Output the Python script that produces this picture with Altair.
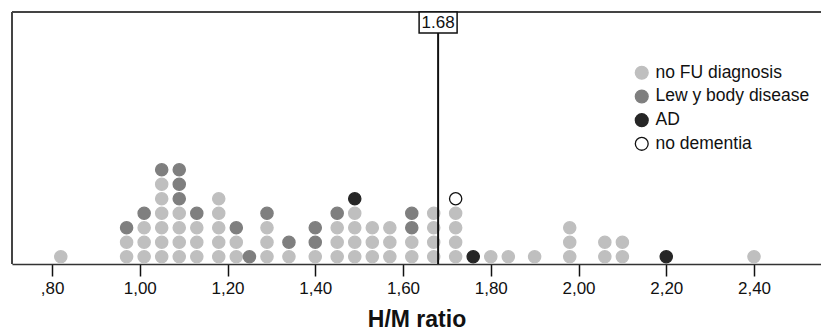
import altair as alt
import pandas as pd

# Dot-plot bins (H/M ratio) and the number of dots of each category per bin
bins   = [0.82, 0.97, 1.01, 1.05, 1.09, 1.13, 1.18, 1.22, 1.25, 1.29, 1.34, 1.40, 1.45, 1.49,
          1.53, 1.57, 1.62, 1.67, 1.72, 1.76, 1.80, 1.84, 1.90, 1.98, 2.06, 2.10, 2.20, 2.40]
no_fu  = [1, 2, 3, 6, 4, 3, 5, 2, 0, 3, 1, 1, 3, 4, 3, 3, 2, 4, 4, 0, 1, 1, 1, 3, 2, 2, 0, 1]
lewy   = [0, 1, 1, 1, 3, 1, 0, 1, 1, 1, 1, 2, 1, 0, 0, 0, 2, 0, 0, 0, 0, 0, 0, 0, 0, 0, 0, 0]
ad     = [0, 0, 0, 0, 0, 0, 0, 0, 0, 0, 0, 0, 0, 1, 0, 0, 0, 0, 0, 1, 0, 0, 0, 0, 0, 0, 1, 0]
nodem  = [0, 0, 0, 0, 0, 0, 0, 0, 0, 0, 0, 0, 0, 0, 0, 0, 0, 0, 1, 0, 0, 0, 0, 0, 0, 0, 0, 0]

categories = ["no FU diagnosis", "Lew y body disease", "AD", "no dementia"]
fills   = ["#bfbfbf", "#7f7f7f", "#262626", "#ffffff"]
strokes = ["#bfbfbf", "#7f7f7f", "#262626", "#111111"]
cutoff = 1.68
tick_values = [0.8, 1.0, 1.2, 1.4, 1.6, 1.8, 2.0, 2.2, 2.4]

rows = []
for i, b in enumerate(bins):
    for ci, counts in enumerate([no_fu, lewy, ad, nodem]):
        for _ in range(counts[i]):
            rows.append({"ratio": b, "cat": categories[ci], "order": ci})
df = pd.DataFrame(rows)

FONT = "Liberation Sans"
W, H = 809, 252

xscale = alt.Scale(domain=[0.7088, 2.5527], nice=False, zero=False)
yscale = alt.Scale(domain=[0, 17.38], nice=False, zero=True)

legend_opts = dict(title=None, orient="none", legendX=621, legendY=52,
                   symbolType="circle", symbolSize=165, symbolStrokeWidth=1.3,
                   labelFont=FONT, labelFontSize=17.5, labelColor="#111111",
                   labelOffset=5, rowPadding=4.7, padding=0)

dots = alt.Chart(df).transform_window(
    row="row_number()", groupby=["ratio"], sort=[alt.SortField("order")]
).transform_calculate(
    level="datum.row - 0.5"
).mark_point(shape="circle", size=150, opacity=1, fillOpacity=1, strokeWidth=1.3).encode(
    x=alt.X("ratio:Q", scale=xscale, title="H/M ratio",
            axis=alt.Axis(values=tick_values,
                          labelExpr="datum.value < 1 ? ',' + substring(format(datum.value, '.2f'), 2) : replace(format(datum.value, '.2f'), '.', ',')",
                          grid=False, domainColor="#333333", domainWidth=1.5,
                          tickColor="#111111", tickWidth=1.5, tickSize=12,
                          labelFont=FONT, labelFontSize=17, labelColor="#111111", labelPadding=4,
                          titleFont=FONT, titleFontSize=23, titleFontWeight="bold",
                          titleColor="#111111", titlePadding=12)),
    y=alt.Y("level:Q", scale=yscale, axis=None),
    fill=alt.Fill("cat:N", scale=alt.Scale(domain=categories, range=fills),
                  legend=alt.Legend(**legend_opts)),
    stroke=alt.Stroke("cat:N", scale=alt.Scale(domain=categories, range=strokes),
                      legend=alt.Legend(**legend_opts)),
)

ref_df = pd.DataFrame({"v": [cutoff], "label": ["1.68"]})

ref_line = alt.Chart(ref_df).mark_rule(color="#111111", strokeWidth=2).encode(
    x=alt.X("v:Q", scale=xscale), y=alt.value(21), y2=alt.value(H)
)
ref_box = alt.Chart(ref_df).mark_rect(fill="white", stroke="#111111", strokeWidth=1.5,
                                      xOffset=-19, x2Offset=19).encode(
    x=alt.X("v:Q", scale=xscale), x2="v:Q", y=alt.value(0), y2=alt.value(21)
)
ref_text = alt.Chart(ref_df).mark_text(font=FONT, fontSize=17, color="#111111",
                                       baseline="middle", align="center").encode(
    x=alt.X("v:Q", scale=xscale), y=alt.value(11), text="label:N"
)

frame_top = alt.Chart(ref_df).mark_rule(color="#444444", strokeWidth=2).encode(
    x=alt.value(0), x2=alt.value(W), y=alt.value(0)
)
frame_left = alt.Chart(ref_df).mark_rule(color="#444444", strokeWidth=2).encode(
    x=alt.value(0), y=alt.value(0), y2=alt.value(H)
)

chart = alt.layer(dots, frame_top, frame_left, ref_line, ref_box, ref_text).resolve_scale(
    x="shared"
).properties(
    width=W, height=H,
    autosize=alt.AutoSizeParams(type="none"),
    padding={"left": 4, "top": 4, "right": 0, "bottom": 68},
).configure_view(stroke=None).configure(background="white")

chart.save("out.html", embed_options={"renderer": "svg", "actions": False})
